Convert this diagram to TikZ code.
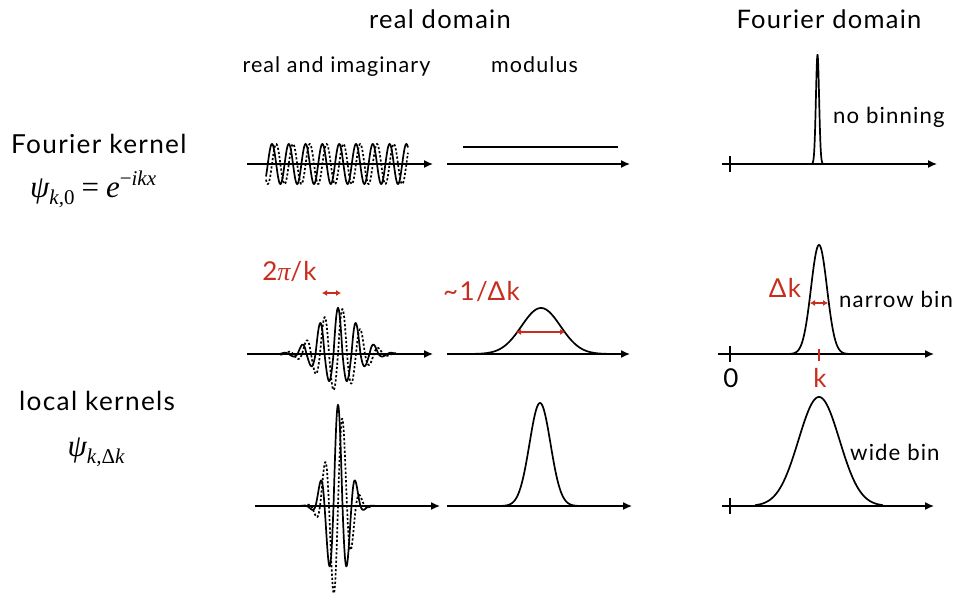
\documentclass[tikz,border=0pt]{standalone}
\usepackage{fontspec}
\setmainfont{Lato}[LetterSpace=5]
\newfontfamily\mserif{Liberation Serif}
\usetikzlibrary{arrows.meta}
\definecolor{annot}{RGB}{200,45,30}
\newcommand\szTitle{\fontsize{25.5}{28}\selectfont}
\newcommand\szSub{\fontsize{21.5}{24}\selectfont}
\newcommand\szRow{\fontsize{26.2}{30}\selectfont}
\newcommand\szBin{\fontsize{22.2}{25}\selectfont}
\newcommand\szRed{\fontsize{26}{29}\selectfont}
\newcommand\szMath{\mserif\fontsize{31}{33}\selectfont}
\newcommand\szScr{\fontsize{21}{22}\selectfont}
\begin{document}
\begin{tikzpicture}[x=1pt,y=-1pt,
  axis/.style={line width=1.4pt,-{Latex[length=9pt,width=8pt]}},
  curve/.style={line width=1.7pt},
  dcurve/.style={line width=1.7pt,dash pattern=on 2.2pt off 2pt},
  redarr/.style={annot,line width=1.4pt,{Latex[length=5pt,width=6pt]}-{Latex[length=5pt,width=6pt]}},
  tickmark/.style={line width=1.4pt},
  lbl/.style={inner sep=0pt,anchor=base}]
\useasboundingbox (0,0) rectangle (955,598);

% ---------- texts ----------
\node[lbl] (rd) at (440,28) {\szTitle real domain};
\node[lbl] (fd) at (829,28) {\szTitle Fourier domain};
\node[lbl] (ri) at (336.5,72) {\szSub real and imaginary};
\node[lbl] (mo) at (534.5,72) {\szSub modulus};
\node[lbl,anchor=base west] (fk) at (11,153) {\szRow Fourier kernel};
\node[lbl,anchor=base west] (psi0) at (30,197) {\szMath\itshape ψ\raisebox{-7pt}{\szScr k,\upshape 0}\hspace{7pt}\upshape =\hspace{7pt}\itshape e\raisebox{12pt}{\szScr\upshape −\itshape ikx}};
\node[lbl,anchor=base west] (lk) at (19,410) {\szRow local kernels};
\node[lbl] (psik) at (96,456) {\szMath\itshape ψ\raisebox{-7pt}{\szScr k,\upshape Δ\itshape k}};
\node[lbl,anchor=base west] (nb) at (833,123) {\szBin no binning};
\node[lbl,anchor=base west] (nrb) at (839,307) {\szBin narrow bin};
\node[lbl,anchor=base west] (wb) at (850,460) {\szBin wide bin};
\node[lbl] (zero) at (731,387) {\szRed 0};
\node[lbl,text=annot] (kl) at (820,387) {\szRed k};
\node[lbl,text=annot] (dk) at (785,297) {\szRed Δk};
\node[lbl,text=annot] (tpk) at (289.5,280) {\szRed 2{\mserif\itshape π}/k};
\node[lbl,text=annot] (idk) at (481.5,300) {\szRed \textasciitilde1/Δk};

% ---------- axes ----------
\coordinate (r1a) at (247,164); \coordinate (r1b) at (433,164);
\coordinate (m1a) at (447,164); \coordinate (m1b) at (630,164);
\coordinate (f1a) at (722,164); \coordinate (f1b) at (937,164);
\coordinate (r2a) at (247,354); \coordinate (r2b) at (433,354);
\coordinate (m2a) at (447,354); \coordinate (m2b) at (630,354);
\coordinate (f2a) at (718,354); \coordinate (f2b) at (934,354);
\coordinate (r3a) at (255,506); \coordinate (r3b) at (440,506);
\coordinate (m3a) at (447,506); \coordinate (m3b) at (632,506);
\coordinate (f3a) at (722,506); \coordinate (f3b) at (934,506);
\foreach \r in {1,2,3}{
  \draw[axis] (r\r a) -- (r\r b);
  \draw[axis] (m\r a) -- (m\r b);
  \draw[axis] (f\r a) -- (f\r b);
}
% ticks at zero
\draw[tickmark] (730,156) -- (730,172);
\draw[tickmark] (730,346) -- (730,362);
\draw[tickmark] (730,498) -- (730,514);
\draw[tickmark,annot] (819,349) -- (819,361);

% ---------- row 1 ----------
\draw[curve] plot[domain=266:408,samples=400,smooth] (\x,{164-20*cos((\x-272)*21.4286)});
\draw[dcurve] plot[domain=266:408,samples=400,smooth] (\x,{164-20*sin((\x-272)*21.4286)});
\coordinate (mod1a) at (463,147); \coordinate (mod1b) at (618,147);
\draw[curve] (mod1a) -- (mod1b);
\draw[curve] plot[domain=811:824,samples=150,smooth] (\x,{164-109*exp(-((\x-817.5)^2)/5.12)});

% ---------- row 2 ----------
\draw[curve] plot[domain=280:396,samples=400,smooth]
  (\x,{354-46*exp(-((\x-338)^2)/800)*cos((\x-338)*20)*(0.825+0.175*sign(cos((\x-338)*20)))});
\draw[dcurve] plot[domain=280:396,samples=400,smooth]
  (\x,{354-46*exp(-((\x-338)^2)/800)*sin((\x-338)*20)*(0.9+0.1*sign(sin((\x-338)*20)))});
\draw[curve] plot[domain=462:620,samples=200,smooth] (\x,{354-46*exp(-((\x-541)^2)/760.5)});
\draw[curve] plot[domain=775:863,samples=250,smooth] (\x,{354-109*exp(-((\x-819)^2)/128)});
\coordinate (tpa) at (322,293); \coordinate (tpb) at (341,293);
\draw[redarr] (tpa) -- (tpb);
\coordinate (ida) at (516,332); \coordinate (idb) at (565,332);
\draw[redarr] (ida) -- (idb);
\coordinate (dka) at (810,303); \coordinate (dkb) at (828,303);
\draw[redarr] (dka) -- (dkb);

% ---------- row 3 ----------
\draw[curve] plot[domain=295:382,samples=400,smooth]
  (\x,{506-101*exp(-((\x-338)^2)/220)*cos((\x-338)*20)*(0.92+0.08*sign(cos((\x-338)*20)))});
\draw[dcurve] plot[domain=295:382,samples=400,smooth]
  (\x,{506-95*exp(-((\x-338)^2)/220)*sin((\x-338)*20)});
\draw[curve] plot[domain=490:590,samples=200,smooth] (\x,{506-103*exp(-((\x-540)^2)/220)});
\draw[curve] plot[domain=755:883,samples=300,smooth] (\x,{506-109*exp(-((\x-819)^2)/840.5)});
\end{tikzpicture}
\end{document}
